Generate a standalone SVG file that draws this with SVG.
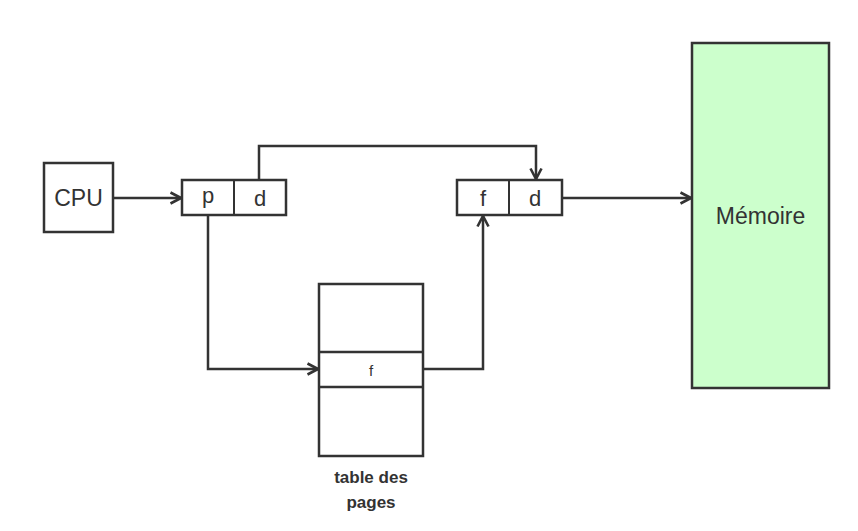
<svg xmlns="http://www.w3.org/2000/svg" width="858" height="531" viewBox="0 0 858 531">
<style>
.box{fill:#fff;stroke:#333;stroke-width:2.5}
.lbl{font-family:"Liberation Sans","DejaVu Sans",sans-serif;fill:#333;text-anchor:middle;dominant-baseline:central}
.edge{fill:none;stroke:#333;stroke-width:2.5}
</style>
<defs>
<marker id="arr" viewBox="0 0 14 14" refX="12.5" refY="7" markerWidth="14" markerHeight="14" markerUnits="userSpaceOnUse" orient="auto">
<path d="M2,1.5 L12.5,7 L2,12.5" fill="none" stroke="#333" stroke-width="2.6"/>
</marker>
</defs>
<rect width="858" height="531" fill="#fff"/>
<g id="connectors">
<path class="edge" d="M113,198 H181" marker-end="url(#arr)"/>
<path class="edge" d="M259,180 V146 H536 V179" marker-end="url(#arr)"/>
<path class="edge" d="M562,198 H691" marker-end="url(#arr)"/>
<path class="edge" d="M208,215 V369 H318" marker-end="url(#arr)"/>
<path class="edge" d="M423,369 H483 V216" marker-end="url(#arr)"/>
</g>
<g id="cpu">
<rect class="box" x="44" y="163" width="69" height="69"/>
<text class="lbl" x="78.5" y="198" font-size="23">CPU</text>
</g>
<g id="logical">
<rect class="box" x="182" y="180" width="104" height="35"/>
<line x1="234" y1="180" x2="234" y2="215" stroke="#333" stroke-width="2"/>
<text class="lbl" x="208" y="195" font-size="22">p</text>
<text class="lbl" x="260" y="198" font-size="22">d</text>
</g>
<g id="physical">
<rect class="box" x="457" y="180" width="105" height="35"/>
<line x1="509" y1="180" x2="509" y2="215" stroke="#333" stroke-width="2"/>
<text class="lbl" x="483" y="198" font-size="22">f</text>
<text class="lbl" x="535" y="198" font-size="22">d</text>
</g>
<g id="table">
<rect class="box" x="319" y="284" width="104" height="172"/>
<line x1="319" y1="352" x2="423" y2="352" stroke="#333" stroke-width="2.5"/>
<line x1="319" y1="387" x2="423" y2="387" stroke="#333" stroke-width="2.5"/>
<text class="lbl" x="371" y="370" font-size="15">f</text>
<text class="lbl" x="371" y="477" font-size="17" font-weight="bold">table des</text>
<text class="lbl" x="371" y="502" font-size="17" font-weight="bold">pages</text>
</g>
<g id="memoire">
<rect x="692" y="43" width="137" height="345" fill="#ccffcc" stroke="#333" stroke-width="2.5"/>
<text class="lbl" x="760.5" y="216" font-size="23">Mémoire</text>
</g>
</svg>
